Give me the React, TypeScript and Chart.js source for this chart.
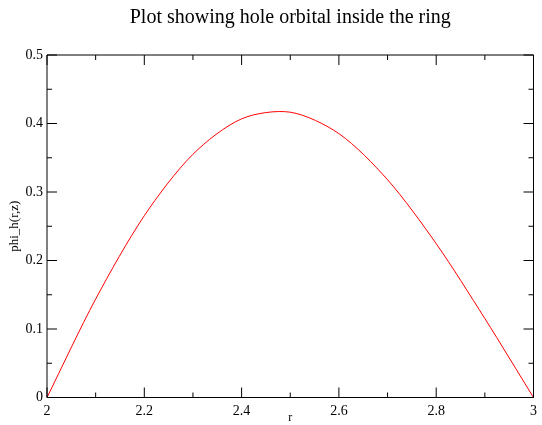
import React, { useEffect, useRef } from "react";
import { Chart, registerables } from "chart.js";

Chart.register(...registerables);

const chartTitle = "Plot showing hole orbital inside the ring";
const xAxisTitle = "r";
const yAxisTitle = "phi_h(r,z)";

const rValues = [2.0, 2.1, 2.2, 2.3, 2.4, 2.5, 2.6, 2.7, 2.8, 2.9, 3.0];
const phiValues = [0.0, 0.1437, 0.2654, 0.3551, 0.4068, 0.4165, 0.3852, 0.3179, 0.2246, 0.1153, 0.0];

const xMajorTicks = [2.0, 2.2, 2.4, 2.6, 2.8, 3.0];
const xMinorTicks = [2.1, 2.3, 2.5, 2.7, 2.9];
const yMajorTicks = [0, 0.1, 0.2, 0.3, 0.4, 0.5];
const yMinorTicks = [0.05, 0.15, 0.25, 0.35, 0.45];

const SERIF = "'Liberation Serif', 'Times New Roman', serif";

const framePlugin = {
  id: "gracePlot",
  afterDraw(chart: any) {
    const { ctx, chartArea, scales } = chart;
    const { left, right, top, bottom } = chartArea;
    const xs = scales.x;
    const ys = scales.y;
    ctx.save();
    ctx.strokeStyle = "#000";
    ctx.lineWidth = 1;
    ctx.beginPath();
    ctx.rect(left, top, right - left, bottom - top);
    ctx.stroke();
    const tick = (arr: number[], len: number) => {
      for (const v of arr) {
        const px = xs.getPixelForValue(v);
        ctx.moveTo(px, bottom);
        ctx.lineTo(px, bottom - len);
        ctx.moveTo(px, top);
        ctx.lineTo(px, top + len);
      }
    };
    const ytick = (arr: number[], len: number) => {
      for (const v of arr) {
        const py = ys.getPixelForValue(v);
        ctx.moveTo(left, py);
        ctx.lineTo(left + len, py);
        ctx.moveTo(right, py);
        ctx.lineTo(right - len, py);
      }
    };
    ctx.beginPath();
    tick(xMajorTicks, 10);
    tick(xMinorTicks, 5);
    ytick(yMajorTicks, 10);
    ytick(yMinorTicks, 5);
    ctx.stroke();

    ctx.fillStyle = "#000";
    ctx.textAlign = "center";
    ctx.textBaseline = "alphabetic";
    ctx.font = `20px ${SERIF}`;
    ctx.fillText(chartTitle, (left + right) / 2, 23);

    ctx.font = `12px ${SERIF}`;
    ctx.textBaseline = "middle";
    ctx.fillText(xAxisTitle, (left + right) / 2, 418);

    ctx.font = `13px ${SERIF}`;
    ctx.translate(15, (top + bottom) / 2);
    ctx.rotate(-Math.PI / 2);
    ctx.fillText(yAxisTitle, 0, 0);
    ctx.restore();
  },
};

export default function App() {
  const ref = useRef<HTMLCanvasElement | null>(null);
  useEffect(() => {
    if (!ref.current) return;
    const points = rValues.map((r, i) => ({ x: r, y: phiValues[i] }));
    const chart = new Chart(ref.current, {
      type: "line",
      data: {
        datasets: [
          {
            data: points,
            borderColor: "#ff0000",
            borderWidth: 1,
            pointRadius: 0,
            fill: false,
            tension: 0.3,
          },
        ],
      },
      options: {
        responsive: false,
        animation: false,
        devicePixelRatio: 1,
        layout: { padding: { top: 55, right: 5, left: 0, bottom: 0 } },
        plugins: { legend: { display: false }, tooltip: { enabled: false }, title: { display: false } },
        scales: {
          x: {
            type: "linear",
            min: 2,
            max: 3,
            afterBuildTicks: (s: any) => {
              s.ticks = xMajorTicks.map((v) => ({ value: v }));
            },
            afterFit: (s: any) => {
              s.height = 27.5;
            },
            ticks: {
              font: { family: SERIF, size: 14 },
              color: "#000",
              padding: 5,
              maxRotation: 0,
              callback: (v: any) => String(Number(Number(v).toFixed(1))),
            },
            grid: { display: false, drawTicks: false },
            border: { display: false },
          },
          y: {
            type: "linear",
            min: 0,
            max: 0.5,
            afterBuildTicks: (s: any) => {
              s.ticks = yMajorTicks.map((v) => ({ value: v }));
            },
            afterFit: (s: any) => {
              s.width = 47;
            },
            ticks: {
              font: { family: SERIF, size: 14 },
              color: "#000",
              padding: 4,
              callback: (v: any) => String(Number(Number(v).toFixed(1))),
            },
            grid: { display: false, drawTicks: false },
            border: { display: false },
          },
        },
      },
      plugins: [framePlugin],
    });
    return () => chart.destroy();
  }, []);
  return (
    <div style={{ position: "fixed", left: 0, top: 0, width: 542, height: 425, background: "#fff" }}>
      <canvas ref={ref} width={542} height={425} style={{ display: "block" }} />
    </div>
  );
}
